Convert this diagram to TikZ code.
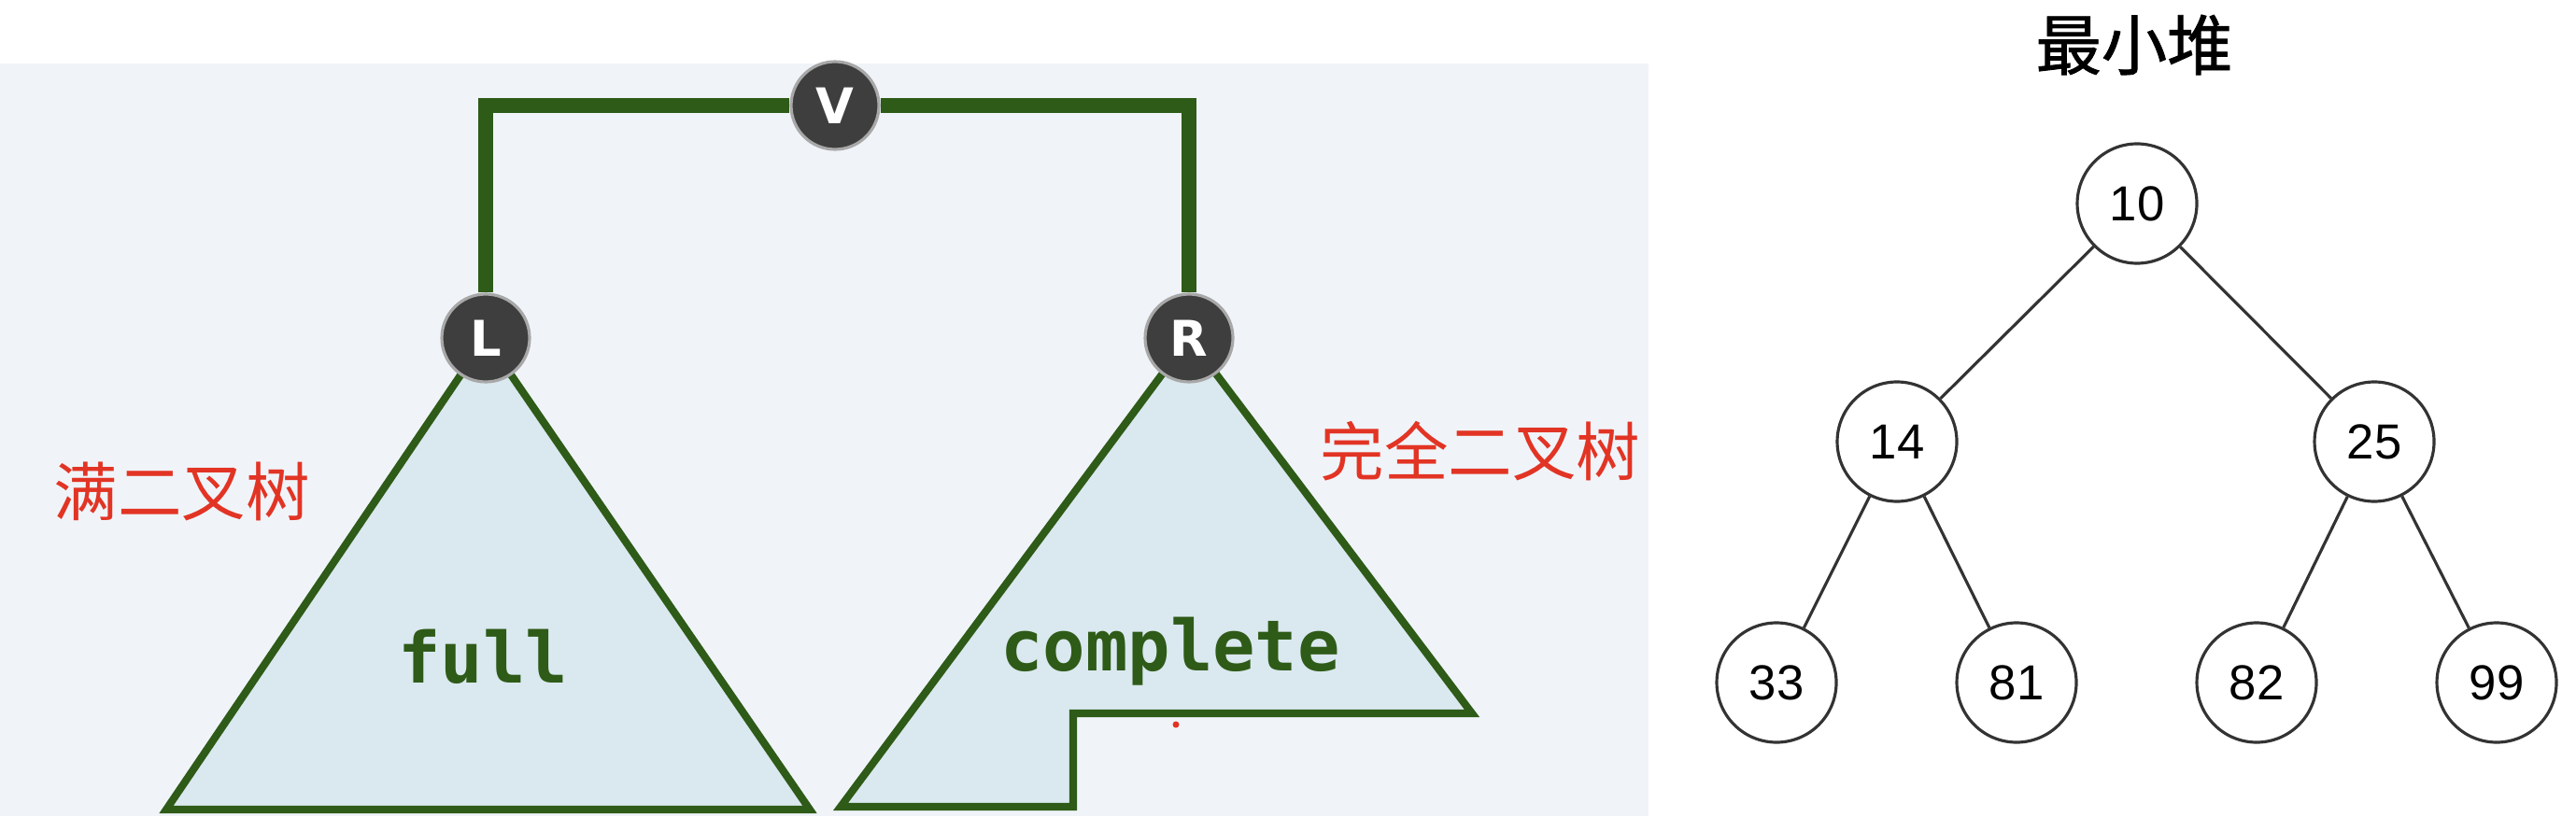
\documentclass[tikz,border=0pt]{standalone}
\usepackage{fontspec}
\setmainfont{DejaVu Sans}
\setsansfont{Liberation Sans}
\setmonofont{DejaVu Sans Mono}
\newfontfamily\cjk{Noto Sans CJK SC}
\newfontfamily\cjkhead[FakeBold=1.2]{Noto Sans CJK SC}
\definecolor{panel}{HTML}{F0F4F9}
\definecolor{trifill}{HTML}{DAE8EF}
\definecolor{treegreen}{HTML}{2E5B18}
\definecolor{nodedark}{HTML}{3E3E3E}
\definecolor{noderim}{HTML}{A8A8A8}
\definecolor{labelred}{HTML}{E23424}
\definecolor{heapgray}{HTML}{333333}
\begin{document}
\begin{tikzpicture}
		[every node/.style={inner sep=1pt},
		ball/.style={circle, draw=noderim, line width=0.9pt, fill=nodedark, minimum size=0.94cm, text=white, font=\bfseries\fontsize{15}{15}\selectfont},
		heapnode/.style={circle, draw=heapgray, line width=0.9pt, minimum size=1.28cm, font=\sffamily\fontsize{15}{15}\selectfont},
		tri/.style={draw=treegreen, fill=trifill, line width=2.3pt},
		link/.style={draw=treegreen, line width=4.8pt},
		codelabel/.style={anchor=base, text=treegreen, font=\ttfamily\bfseries\fontsize{21.5}{21.5}\selectfont},
		redlabel/.style={text=labelred, font=\cjk\fontsize{19.5}{19.5}\selectfont}]
		\useasboundingbox (0,0) rectangle (27.58,8.74);
		\fill[panel] (0,0) rectangle (17.65,8.06);
		
		% left picture: two subtrees under v
		\coordinate (fullL) at (1.78,0.07);
		\coordinate (fullR) at (8.67,0.07);
		\coordinate (compL) at (9.00,0.10);
		\coordinate (stepB) at (11.49,0.10);
		\coordinate (stepT) at (11.49,1.10);
		\coordinate (compR) at (15.76,1.10);
		\coordinate (apexL) at (5.20,5.12);
		\coordinate (apexR) at (12.73,5.12);
		\path[tri] (apexL) -- (fullL) -- (fullR) -- cycle;
		\path[tri] (apexR) -- (compL) -- (stepB) -- (stepT) -- (compR) -- cycle;
		
		\node[ball] (v) at (8.94,7.61) {V};
		\node[ball] (l) at (apexL) {L};
		\node[ball] (r) at (apexR) {R};
		\path[link] (l) |- (v) -| (r);
		
		\node[codelabel] (full) at (5.17,1.43) {full};
		\node[codelabel] (complete) at (12.53,1.56) {complete};
		\node[redlabel] (fulltext) at (1.95,3.48) {满二叉树};
		\node[redlabel] (comptext) at (15.85,3.91) {完全二叉树};
		\fill[labelred] (12.59,0.98) circle (0.035);
		
		% right picture: min heap
		\node[font=\cjkhead\fontsize{20}{20}\selectfont] (title) at (22.85,8.26) {最小堆};
		\node[heapnode] (h10) at (22.88,6.56) {10};
		\node[heapnode] (h14) at (20.31,4.01) {14};
		\node[heapnode] (h25) at (25.42,4.01) {25};
		\node[heapnode] (h33) at (19.02,1.43) {33};
		\node[heapnode] (h81) at (21.59,1.43) {81};
		\node[heapnode] (h82) at (24.16,1.43) {82};
		\node[heapnode] (h99) at (26.73,1.43) {99};
		
		\path[draw=heapgray, line width=0.9pt] (h10) edge (h14) edge (h25);
		\path[draw=heapgray, line width=0.9pt] (h14) edge (h33) edge (h81);
		\path[draw=heapgray, line width=0.9pt] (h25) edge (h82) edge (h99);
		\end{tikzpicture}
\end{document}
